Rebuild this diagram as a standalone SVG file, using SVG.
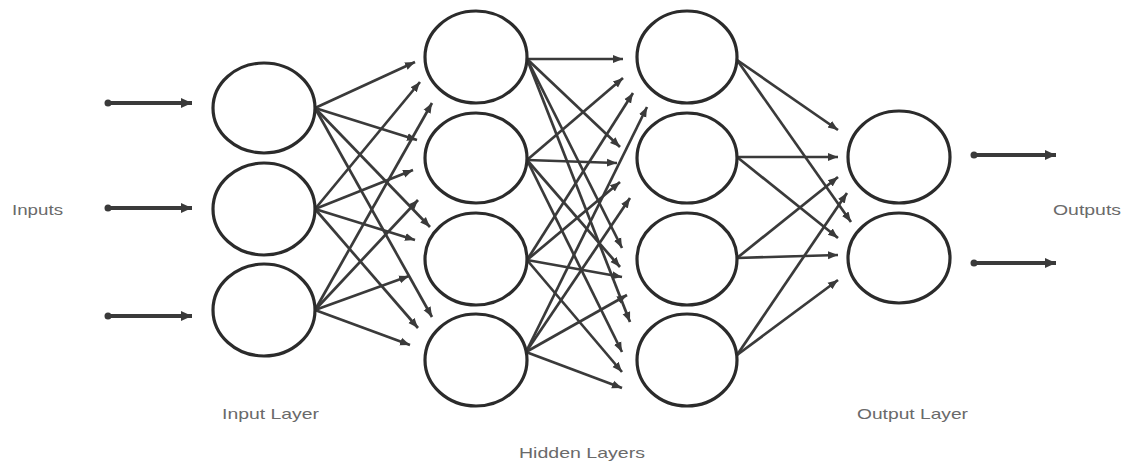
<svg xmlns="http://www.w3.org/2000/svg" width="1125" height="468" viewBox="0 0 1125 468">
  <defs>
    <marker id="ah" markerUnits="userSpaceOnUse" markerWidth="12" markerHeight="10" refX="10" refY="5" orient="auto">
      <path d="M0,1 L10,5 L0,9 Z" fill="#3a3a3a"/>
    </marker>
    <marker id="ahb" markerUnits="userSpaceOnUse" markerWidth="12" markerHeight="12" refX="11" refY="6" orient="auto">
      <path d="M0,1 L11,6 L0,11 Z" fill="#3a3a3a"/>
    </marker>
  </defs>
  <style>
    .node { fill: #fff; stroke: #2b2b2b; stroke-width: 3.2; }
    .edge { stroke: #3a3a3a; stroke-width: 2.7; fill: none; marker-end: url(#ah); }
    .io { stroke: #3a3a3a; stroke-width: 4; fill: none; marker-end: url(#ahb); }
    .dot { fill: #3a3a3a; }
    .lbl { font-family: "Liberation Sans", Arial, sans-serif; font-size: 15px; fill: #6a6a6a; }
  </style>
  <rect width="1125" height="468" fill="#fff"/>

  <g id="connectors">
    <!-- input arrows -->
    <line class="io" x1="108" y1="103" x2="192" y2="103"/>
    <circle class="dot" cx="108" cy="103" r="3.5"/>
    <line class="io" x1="108" y1="208" x2="192" y2="208"/>
    <circle class="dot" cx="108" cy="208" r="3.5"/>
    <line class="io" x1="108" y1="316" x2="192" y2="316"/>
    <circle class="dot" cx="108" cy="316" r="3.5"/>
    <!-- output arrows -->
    <line class="io" x1="974" y1="155" x2="1056" y2="155"/>
    <circle class="dot" cx="974" cy="155" r="3.5"/>
    <line class="io" x1="974" y1="263" x2="1056" y2="263"/>
    <circle class="dot" cx="974" cy="263" r="3.5"/>

    <!-- input -> hidden 1 -->
    <line class="edge" x1="315" y1="108" x2="415" y2="62"/>
    <line class="edge" x1="315" y1="108" x2="417" y2="140"/>
    <line class="edge" x1="315" y1="108" x2="430" y2="227"/>
    <line class="edge" x1="315" y1="108" x2="432" y2="317"/>
    <line class="edge" x1="315" y1="209" x2="420" y2="82"/>
    <line class="edge" x1="315" y1="209" x2="413" y2="170"/>
    <line class="edge" x1="315" y1="209" x2="415" y2="240"/>
    <line class="edge" x1="315" y1="209" x2="418" y2="328"/>
    <line class="edge" x1="315" y1="310" x2="432" y2="103"/>
    <line class="edge" x1="315" y1="310" x2="418" y2="200"/>
    <line class="edge" x1="315" y1="310" x2="409" y2="276"/>
    <line class="edge" x1="315" y1="310" x2="410" y2="345"/>

    <!-- hidden 1 -> hidden 2 -->
    <line class="edge" x1="527" y1="59" x2="623" y2="59"/>
    <line class="edge" x1="527" y1="59" x2="620" y2="147"/>
    <line class="edge" x1="527" y1="59" x2="622" y2="248"/>
    <line class="edge" x1="527" y1="59" x2="630" y2="322"/>
    <line class="edge" x1="527" y1="160" x2="623" y2="78"/>
    <line class="edge" x1="527" y1="160" x2="617" y2="163"/>
    <line class="edge" x1="527" y1="160" x2="620" y2="267"/>
    <line class="edge" x1="527" y1="160" x2="622" y2="352"/>
    <line class="edge" x1="527" y1="260" x2="633" y2="93"/>
    <line class="edge" x1="527" y1="260" x2="620" y2="182"/>
    <line class="edge" x1="527" y1="260" x2="622" y2="277"/>
    <line class="edge" x1="527" y1="260" x2="622" y2="372"/>
    <line class="edge" x1="526" y1="352" x2="647" y2="107"/>
    <line class="edge" x1="526" y1="352" x2="630" y2="198"/>
    <line class="edge" x1="526" y1="352" x2="627" y2="295"/>
    <line class="edge" x1="526" y1="352" x2="622" y2="388"/>

    <!-- hidden 2 -> output -->
    <line class="edge" x1="737" y1="60" x2="838" y2="130"/>
    <line class="edge" x1="737" y1="60" x2="851" y2="222"/>
    <line class="edge" x1="737" y1="157" x2="838" y2="157"/>
    <line class="edge" x1="737" y1="157" x2="838" y2="238"/>
    <line class="edge" x1="737" y1="258" x2="838" y2="177"/>
    <line class="edge" x1="737" y1="258" x2="838" y2="255"/>
    <line class="edge" x1="737" y1="355" x2="847" y2="193"/>
    <line class="edge" x1="737" y1="355" x2="838" y2="280"/>
  </g>

  <g id="input-1"><ellipse class="node" cx="264" cy="108" rx="51" ry="45"/></g>
  <g id="input-2"><ellipse class="node" cx="264" cy="209" rx="51" ry="46"/></g>
  <g id="input-3"><ellipse class="node" cx="264" cy="310" rx="51" ry="46"/></g>

  <g id="hidden1-1"><ellipse class="node" cx="476" cy="57" rx="51" ry="46"/></g>
  <g id="hidden1-2"><ellipse class="node" cx="476" cy="158" rx="51" ry="45"/></g>
  <g id="hidden1-3"><ellipse class="node" cx="476" cy="259" rx="51" ry="46"/></g>
  <g id="hidden1-4"><ellipse class="node" cx="476" cy="360" rx="51" ry="46"/></g>

  <g id="hidden2-1"><ellipse class="node" cx="687" cy="57" rx="50" ry="46"/></g>
  <g id="hidden2-2"><ellipse class="node" cx="687" cy="158" rx="50" ry="45"/></g>
  <g id="hidden2-3"><ellipse class="node" cx="687" cy="259" rx="50" ry="46"/></g>
  <g id="hidden2-4"><ellipse class="node" cx="687" cy="360" rx="50" ry="46"/></g>

  <g id="output-1"><ellipse class="node" cx="899" cy="157" rx="51" ry="46"/></g>
  <g id="output-2"><ellipse class="node" cx="899" cy="258" rx="51" ry="45"/></g>

  <g id="labels">
    <text class="lbl" x="12" y="215" textLength="51" lengthAdjust="spacingAndGlyphs">Inputs</text>
    <text class="lbl" x="1053" y="215" textLength="68" lengthAdjust="spacingAndGlyphs">Outputs</text>
    <text class="lbl" x="222" y="419" textLength="97" lengthAdjust="spacingAndGlyphs">Input Layer</text>
    <text class="lbl" x="857" y="419" textLength="111" lengthAdjust="spacingAndGlyphs">Output Layer</text>
    <text class="lbl" x="519" y="458" textLength="126" lengthAdjust="spacingAndGlyphs">Hidden Layers</text>
  </g>
</svg>
